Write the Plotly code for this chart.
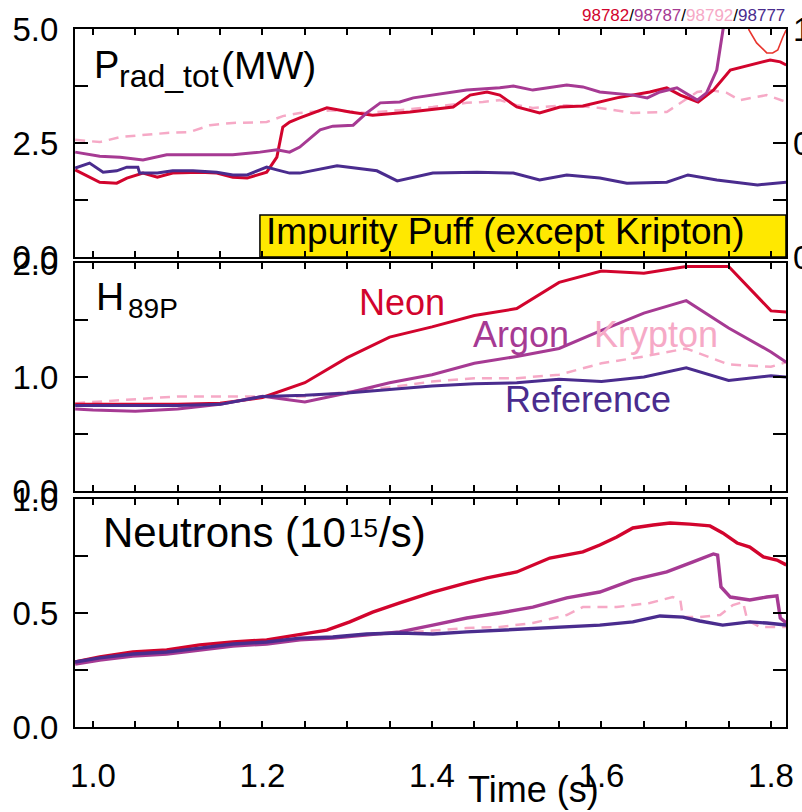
import plotly.graph_objects as go

# ---------------- data ----------------
# Panel 1: radiated power P_rad_tot (MW)
t_prad_ref = [0.979, 0.996, 1.012, 1.028, 1.040, 1.053, 1.055, 1.076, 1.094, 1.118, 1.146, 1.165, 1.182, 1.205,
              1.217, 1.232, 1.244, 1.288, 1.335, 1.359, 1.401, 1.453, 1.496, 1.527, 1.559, 1.598, 1.630, 1.677,
              1.702, 1.736, 1.784, 1.818]
prad_ref = [1.95, 2.06, 1.86, 1.89, 1.97, 1.97, 1.84, 1.84, 1.89, 1.89, 1.86, 1.80, 1.80, 1.97, 1.91, 1.84,
            1.84, 2.00, 1.89, 1.67, 1.84, 1.86, 1.84, 1.69, 1.80, 1.73, 1.62, 1.64, 1.80, 1.69, 1.58, 1.64]

t_prad_neon = [0.979, 1.008, 1.028, 1.040, 1.059, 1.076, 1.094, 1.126, 1.146, 1.165, 1.182, 1.197, 1.205,
               1.217, 1.224, 1.232, 1.244, 1.276, 1.303, 1.330, 1.374, 1.425, 1.445, 1.465, 1.480, 1.500,
               1.527, 1.551, 1.578, 1.618, 1.657, 1.677, 1.693, 1.714, 1.732, 1.752, 1.775, 1.799, 1.811, 1.818]
prad_neon = [1.91, 1.64, 1.62, 1.73, 1.84, 1.75, 1.84, 1.86, 1.84, 1.75, 1.73, 1.82, 1.86, 2.19, 2.85, 2.96,
             3.05, 3.27, 3.18, 3.11, 3.18, 3.29, 3.55, 3.62, 3.55, 3.29, 3.16, 3.29, 3.31, 3.49, 3.62, 3.71,
             3.55, 3.40, 3.66, 4.10, 4.21, 4.32, 4.28, 4.21]

t_prad_argon = [0.979, 1.008, 1.032, 1.059, 1.087, 1.126, 1.165, 1.197, 1.217, 1.232, 1.244, 1.268, 1.283,
                1.307, 1.323, 1.339, 1.362, 1.378, 1.401, 1.441, 1.480, 1.496, 1.519, 1.559, 1.578, 1.598,
                1.637, 1.654, 1.669, 1.689, 1.713, 1.724, 1.736, 1.742, 1.747]
prad_argon = [2.30, 2.21, 2.19, 2.13, 2.24, 2.24, 2.24, 2.30, 2.35, 2.30, 2.41, 2.79, 2.87, 2.89, 3.16, 3.38,
              3.40, 3.49, 3.55, 3.66, 3.71, 3.75, 3.66, 3.77, 3.73, 3.62, 3.55, 3.49, 3.62, 3.71, 3.44, 3.60,
              4.10, 4.76, 5.42]

t_prad_kr = [0.979, 1.008, 1.032, 1.059, 1.087, 1.114, 1.138, 1.165, 1.205, 1.224, 1.244, 1.283, 1.323, 1.362,
             1.401, 1.441, 1.460, 1.480, 1.500, 1.519, 1.559, 1.598, 1.637, 1.677, 1.693, 1.713, 1.728, 1.748,
             1.763, 1.779, 1.795, 1.818]
prad_kr = [2.57, 2.52, 2.63, 2.68, 2.72, 2.74, 2.89, 2.94, 2.96, 3.09, 3.16, 3.22, 3.16, 3.22, 3.29, 3.38,
           3.40, 3.44, 3.33, 3.27, 3.33, 3.27, 3.16, 3.18, 3.38, 3.62, 3.66, 3.60, 3.44, 3.49, 3.55, 3.40]

# thin trace on the right-hand (0-1) axis of panel 1
t_right = [1.772, 1.774, 1.783, 1.795, 1.802, 1.808, 1.814, 1.818]
v_right = [1.04, 0.996, 0.939, 0.895, 0.895, 0.908, 0.965, 0.996]

# Panel 2: H89P
t_h = [0.979, 1.0, 1.05, 1.1, 1.15, 1.2, 1.25, 1.3, 1.35, 1.4, 1.45, 1.5, 1.55, 1.6, 1.65, 1.7, 1.75, 1.8, 1.818]
h_neon = [0.76, 0.76, 0.76, 0.76, 0.77, 0.82, 0.95, 1.17, 1.35, 1.44, 1.54, 1.60, 1.83, 1.93, 1.91, 1.97, 1.97, 1.58, 1.57]
h_argon = [0.72, 0.71, 0.70, 0.72, 0.76, 0.83, 0.78, 0.86, 0.95, 1.02, 1.12, 1.18, 1.25, 1.41, 1.56, 1.67, 1.43, 1.22, 1.13]
h_kr = [0.77, 0.78, 0.80, 0.83, 0.83, 0.83, 0.83, 0.87, 0.91, 0.96, 0.99, 0.99, 1.02, 1.12, 1.18, 1.25, 1.11, 1.09, 1.13]
h_ref = [0.75, 0.75, 0.75, 0.75, 0.76, 0.83, 0.84, 0.86, 0.89, 0.92, 0.94, 0.95, 0.98, 0.96, 1.00, 1.08, 0.97, 1.01, 1.00]

# Panel 3: neutrons (1e15/s)
t_n_ref = [0.979, 1.008, 1.047, 1.087, 1.126, 1.165, 1.205, 1.244, 1.283, 1.323, 1.362, 1.401, 1.441, 1.480,
           1.519, 1.559, 1.598, 1.637, 1.669, 1.696, 1.716, 1.743, 1.775, 1.795, 1.818]
n_ref = [0.285, 0.303, 0.320, 0.329, 0.346, 0.364, 0.373, 0.390, 0.395, 0.408, 0.412, 0.408, 0.417, 0.425,
         0.434, 0.439, 0.447, 0.461, 0.487, 0.482, 0.465, 0.447, 0.461, 0.456, 0.447]

t_n_neon = [0.979, 1.008, 1.047, 1.087, 1.126, 1.165, 1.205, 1.244, 1.276, 1.303, 1.330, 1.362, 1.401, 1.441,
            1.465, 1.500, 1.539, 1.578, 1.598, 1.618, 1.637, 1.661, 1.681, 1.704, 1.728, 1.743, 1.760, 1.775,
            1.791, 1.807, 1.818]
n_neon = [0.285, 0.307, 0.329, 0.338, 0.360, 0.373, 0.382, 0.404, 0.425, 0.461, 0.504, 0.544, 0.592, 0.632,
          0.654, 0.680, 0.741, 0.768, 0.798, 0.833, 0.873, 0.886, 0.895, 0.890, 0.882, 0.851, 0.807, 0.789,
          0.746, 0.732, 0.711]

t_n_argon = [0.979, 1.008, 1.047, 1.087, 1.126, 1.165, 1.205, 1.244, 1.283, 1.323, 1.362, 1.401, 1.441, 1.480,
             1.519, 1.559, 1.598, 1.637, 1.677, 1.708, 1.732, 1.737, 1.741, 1.752, 1.775, 1.795, 1.807, 1.811, 1.818]
n_argon = [0.276, 0.294, 0.311, 0.320, 0.338, 0.355, 0.364, 0.382, 0.390, 0.404, 0.417, 0.447, 0.478, 0.500,
           0.526, 0.566, 0.592, 0.645, 0.680, 0.724, 0.759, 0.754, 0.614, 0.570, 0.557, 0.570, 0.575, 0.478, 0.456]

t_n_kr = [0.979, 1.047, 1.126, 1.205, 1.283, 1.362, 1.441, 1.480, 1.519, 1.559, 1.578, 1.618, 1.657, 1.684,
          1.693, 1.696, 1.716, 1.740, 1.755, 1.767, 1.772, 1.787, 1.818]
n_kr = [0.281, 0.316, 0.342, 0.368, 0.395, 0.412, 0.434, 0.439, 0.456, 0.491, 0.526, 0.526, 0.544, 0.570,
        0.557, 0.482, 0.482, 0.491, 0.535, 0.548, 0.469, 0.439, 0.439]

shots = ["98782", "98787", "98792", "98777"]
species = ["Neon", "Argon", "Krypton", "Reference"]
x_ticks = [1.0, 1.2, 1.4, 1.6, 1.8]

# ---------------- style ----------------
C_NEON = "#D2042D"
C_ARGON = "#A63A93"
C_KR = "#F6A9C6"
C_REF = "#4A2C8E"
C_THIN = "#E8352E"
FONT = "Liberation Sans, Arial, Helvetica, sans-serif"

W, H = 802, 812
L, R, T, B = 75, 16, 29, 85


def px(xp):
    return (xp - L) / (W - L - R)


def py(yp):
    return (H - B - yp) / (H - T - B)


fig = go.Figure()


def line(x, y, color, xa, ya, dash="solid", width=3.0):
    fig.add_trace(go.Scatter(x=x, y=y, mode="lines", xaxis=xa, yaxis=ya,
                             line=dict(color=color, width=width, dash=dash), showlegend=False,
                             hoverinfo="skip"))


KR_DASH = "10px,7px"
# panel 1
line(t_prad_kr, prad_kr, C_KR, "x", "y", KR_DASH, 2.5)
line(t_prad_neon, prad_neon, C_NEON, "x", "y")
line(t_prad_argon, prad_argon, C_ARGON, "x", "y")
line(t_prad_ref, prad_ref, C_REF, "x", "y")
line(t_right, v_right, C_THIN, "x", "y4", width=1.6)
# panel 2
line(t_h, h_kr, C_KR, "x2", "y2", KR_DASH, 2.5)
line(t_h, h_neon, C_NEON, "x2", "y2")
line(t_h, h_argon, C_ARGON, "x2", "y2")
line(t_h, h_ref, C_REF, "x2", "y2")
# panel 3
line(t_n_kr, n_kr, C_KR, "x3", "y3", KR_DASH, 2.5)
line(t_n_neon, n_neon, C_NEON, "x3", "y3", width=3.4)
line(t_n_argon, n_argon, C_ARGON, "x3", "y3", width=3.4)
line(t_n_ref, n_ref, C_REF, "x3", "y3", width=3.4)

xr = [0.9788, 1.8177]
minor_x = [round(1.0 + 0.05 * i, 2) for i in range(17)]
x_text = [("%.1f" % v) if any(abs(v - m) < 1e-9 for m in x_ticks) else "" for v in minor_x]


def xaxis(anchor, labels):
    return dict(domain=[0, 1], range=xr, anchor=anchor, showline=True, linecolor="black", linewidth=2,
                mirror="ticks", ticks="inside", ticklen=6, tickwidth=1.5, tickcolor="black",
                tickvals=minor_x, ticktext=x_text, showticklabels=labels, showgrid=False, zeroline=False,
                automargin=False, ticklabelposition="outside", ticklabelstandoff=18,
                tickfont=dict(size=33, color="black", family=FONT))


def yaxis(domain, rng, vals, text, anchor):
    return dict(domain=domain, range=rng, anchor=anchor, showline=True, linecolor="black", linewidth=2,
                mirror="ticks", ticks="inside", ticklen=13, tickwidth=1.5, tickcolor="black",
                tickvals=vals, ticktext=text, showgrid=False, zeroline=False, ticklabelstandoff=8,
                automargin=False, tickfont=dict(size=33, color="black", family=FONT))


d1 = [py(257), py(29)]
d2 = [py(491), py(263)]
d3 = [0, py(499)]

layout = dict(
    template="none",
    width=W, height=H, margin=dict(l=L, r=R, t=T, b=B, autoexpand=False),
    paper_bgcolor="white", plot_bgcolor="white", showlegend=False,
    font=dict(family=FONT, color="black"),
    xaxis=xaxis("y", False), xaxis2=xaxis("y2", False), xaxis3=xaxis("y3", True),
    yaxis=yaxis(d1, [0, 5], [0, 1.25, 2.5, 3.75, 5], ["0.0", "", "2.5", "", "5.0"], "x"),
    yaxis2=yaxis(d2, [0, 2], [0, 0.5, 1.0, 1.5, 2.0], ["0.0", "", "1.0", "", "2.0"], "x2"),
    yaxis3=yaxis(d3, [0, 1], [0, 0.25, 0.5, 0.75, 1.0], ["0.0", "", "0.5", "", "1.0"], "x3"),
    yaxis4=dict(overlaying="y", side="right", anchor="x", range=[0, 1], showline=False,
                ticks="inside", ticklen=13, tickwidth=1.5, tickcolor="black",
                tickvals=[0, 0.25, 0.5, 0.75, 1.0], ticktext=["0.0", "", "0.5", "", "1.0"],
                showgrid=False, zeroline=False, ticklabelstandoff=6, automargin=False,
                tickfont=dict(size=33, color="black", family=FONT)),
)
fig.update_layout(**layout)

# yellow box in panel 1
fig.add_shape(type="rect", xref="x", yref="y", x0=1.197, x1=xr[1], y0=0, y1=0.921,
              fillcolor="#FFE800", line=dict(color="black", width=1.5), layer="below")

ann = []


def text(s, xp, yp, size, color="black", xanchor="left"):
    ann.append(dict(text=s, x=px(xp), y=py(yp), xref="paper", yref="paper", xanchor=xanchor,
                    yanchor="middle", showarrow=False, font=dict(size=size, color=color, family=FONT)))


text("Impurity Puff (except Kripton)", 264, 232, 37)
text("P", 92, 65, 38)
text("rad_tot", 117, 76, 32)
text("(MW)", 219, 65, 39)
text("H", 94, 296, 39)
text("89P", 126, 308, 28)
text("Neutrons (10", 101, 532, 42)
text("15", 347, 528, 26)
text("/s)", 377, 532, 42)
text(species[0], 402, 302, 36, C_NEON, "center")
text(species[1], 521, 334, 36, C_ARGON, "center")
text(species[2], 656, 334, 36, C_KR, "center")
text(species[3], 588, 400, 36, C_REF, "center")
text("Time (s)", 533, 789, 36, "black", "center")
shot_txt = ("<span style='color:%s'>%s</span>/<span style='color:%s'>%s</span>/"
            "<span style='color:%s'>%s</span>/<span style='color:%s'>%s</span>"
            % (C_NEON, shots[0], C_ARGON, shots[1], C_KR, shots[2], C_REF, shots[3]))
text(shot_txt, 787, 15, 17, "black", "right")
fig.update_layout(annotations=ann)

fig.write_html("out.html")
